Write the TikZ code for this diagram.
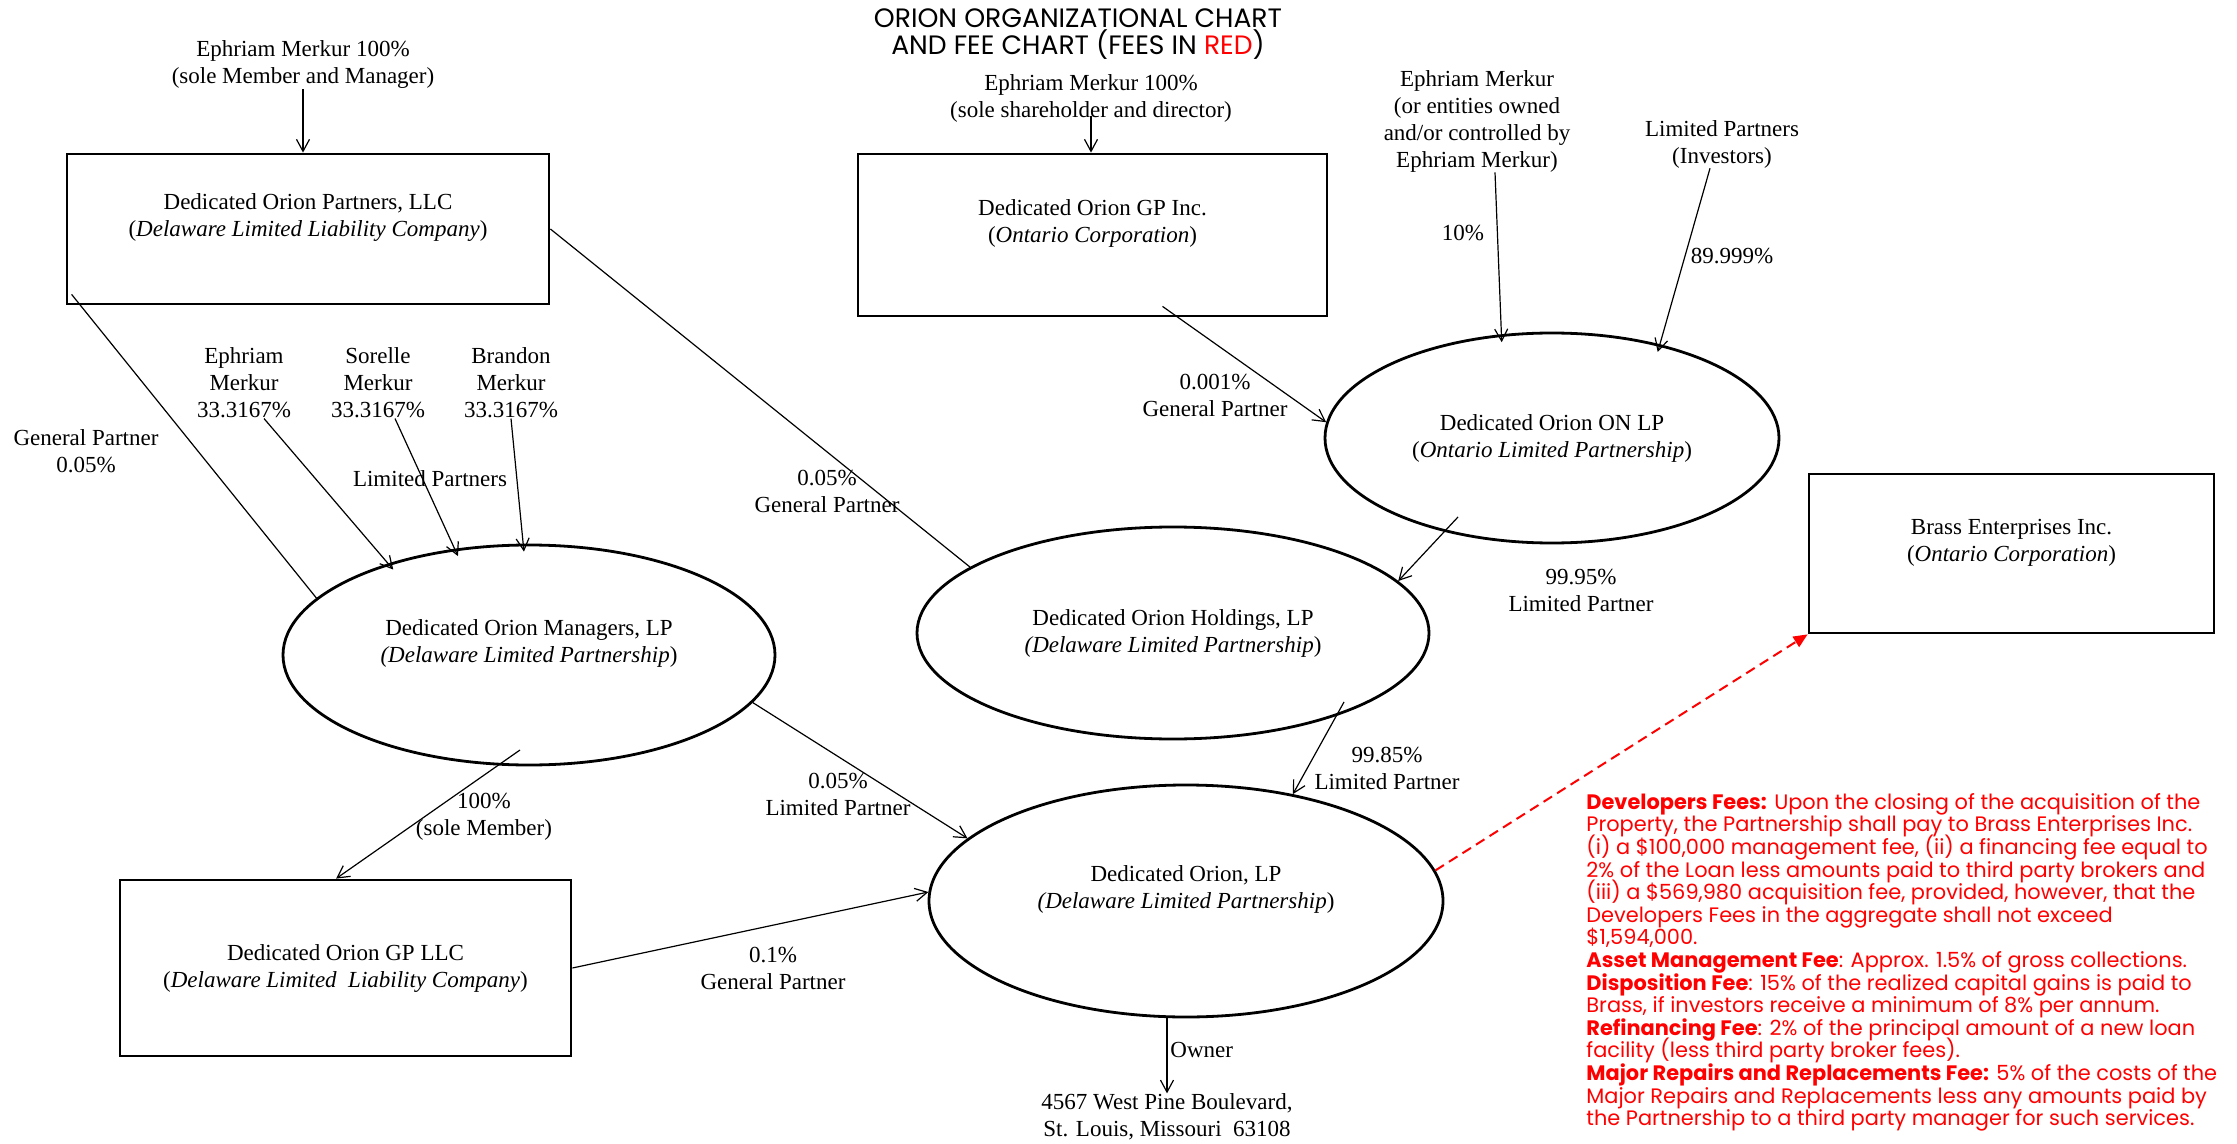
\documentclass[tikz,border=0pt]{standalone}
\usepackage{fontspec}
\setmainfont{Liberation Serif}
\newfontfamily\feefont{Poppins}
\usetikzlibrary{shapes.geometric, arrows.meta}

\begin{document}
\begin{tikzpicture}[
    x=0.5pt, y=-0.5pt,
    >={Straight Barb[length=6pt,width=6.5pt]},
    every node/.style={font=\fontsize{11.5}{13.5}\selectfont, inner sep=0pt},
    box/.style={draw, line width=1.4pt, align=center},
    oval/.style={draw, ellipse, line width=1.4pt, align=center},
    note/.style={align=center},
    arrow/.style={->, line width=0.6pt},
    link/.style={line width=0.6pt},
    fee/.style={font={\feefont\fontsize{10.45}{11.3}\selectfont\lineskiplimit=-100pt}, text=red, align=left},
    feeline/.style={-{Triangle[length=7pt,width=6pt]}, red, line width=1pt, dash pattern=on 5pt off 3pt},
]
\useasboundingbox (0,0) rectangle (2237,1144);

% --- Title ---
\node[font=\feefont\fontsize{13.3}{12.5}\selectfont, align=center] (title) at (1078,34)
    {ORION ORGANIZATIONAL CHART\\AND FEE CHART (FEES IN \textcolor{red}{RED})};

% --- Entities ---
\node[box, minimum width=241pt, minimum height=75pt] (dop) at (308,229)
    {Dedicated Orion Partners, LLC\\(\textit{Delaware Limited Liability Company})\\\mbox{}};
\node[box, minimum width=234.5pt, minimum height=81pt] (gpinc) at (1092.5,235)
    {Dedicated Orion GP Inc.\\(\textit{Ontario Corporation})\\\mbox{}};
\node[box, minimum width=202.5pt, minimum height=79.5pt] (brass) at (2011.5,553.5)
    {Brass Enterprises Inc.\\(\textit{Ontario Corporation})\\\mbox{}};
\node[box, minimum width=225.5pt, minimum height=88pt] (gpllc) at (345.5,968)
    {Dedicated Orion GP LLC\\(\textit{Delaware Limited\ \ Liability Company})};
\node[oval, minimum width=227pt, minimum height=105pt] (onlp) at (1552,438)
    {Dedicated Orion ON LP\\(\textit{Ontario Limited Partnership})};
\node[oval, minimum width=246pt, minimum height=110pt] (mgr) at (529,655)
    {Dedicated Orion Managers, LP\\\textit{(Delaware Limited Partnership})\\\mbox{}};
\node[oval, minimum width=256pt, minimum height=106pt] (hold) at (1173,633)
    {Dedicated Orion Holdings, LP\\\textit{(Delaware Limited Partnership})};
\node[oval, minimum width=257pt, minimum height=116pt] (olp) at (1186,901)
    {Dedicated Orion, LP\\\textit{(Delaware Limited Partnership})\\\mbox{}};

% --- Owners ---
\node[note] (t1) at (303,65) {Ephriam Merkur 100\%\\(sole Member and Manager)};
\node[note] (t2) at (1091,98) {Ephriam Merkur 100\%\\(sole shareholder and director)};
\node[note] (t3) at (1477,121) {Ephriam Merkur\\(or entities owned\\and/or controlled by\\Ephriam Merkur)};
\node[note] (t4) at (1722,144) {Limited Partners\\(Investors)};
\node[note] (m1) at (244,383) {Ephriam\\Merkur\\33.3167\%};
\node[note] (m2) at (378,383) {Sorelle\\Merkur\\33.3167\%};
\node[note] (m3) at (511,383) {Brandon\\Merkur\\33.3167\%};
\node[note] (addr) at (1167,1117) {4567 West Pine Boulevard,\\St. Louis, Missouri\ \ 63108};

% --- Share labels ---
\node[note] (l1) at (86,451) {General Partner\\0.05\%};
\node[note] (l2) at (430,479) {Limited Partners};
\node[note] (l3) at (827,491) {0.05\%\\General Partner};
\node[note] (l4) at (484,817) {100\%\\(sole Member)};
\node[note] (l5) at (838,794) {0.05\%\\Limited Partner};
\node[note] (l6) at (773,968) {0.1\%\\General Partner};
\node[note] (l7) at (1387,768) {99.85\%\\Limited Partner};
\node[note] (l8) at (1581,590) {99.95\%\\Limited Partner};
\node[note] (l9) at (1215,395) {0.001\%\\General Partner};
\node[note] (l10) at (1463,233) {10\%};
\node[note] (l11) at (1732,256) {89.999\%};
\node[anchor=west] (own) at (1170,1050) {Owner};

% --- Connectors ---
\draw[arrow] (t1.south) -- (t1.south |- dop.north);
\draw[arrow] ([yshift=-9pt]t2.center) -- (t2.center |- gpinc.north);
\draw[arrow, shorten >=-4pt] ([xshift=9pt]t3.south) -- (onlp.116);
\draw[arrow, shorten >=-4pt] ([xshift=-6pt]t4.south) -- (onlp.41);
\draw[arrow] ([xshift=35pt,yshift=5.5pt]gpinc.south) -- (onlp.176);
\draw[arrow] ([xshift=-47pt,yshift=-39.5pt]onlp.center) -- (hold.13);
\draw[arrow] ([xshift=85.5pt,yshift=-34.5pt]hold.center) -- (olp.45);
\draw[arrow] (addr.north |- olp.south) -- (addr.north);

\draw[link] ([xshift=3pt,yshift=5.5pt]dop.south west) -- (mgr.165);
\draw[link] (dop.east) -- (hold.162);

\draw[arrow, shorten >=-4pt] ([xshift=10pt]m1.south) -- (mgr.147);
\draw[arrow, shorten >=-4pt] ([xshift=8.5pt]m2.south) -- (mgr.125);
\draw[arrow, shorten >=-4pt] (m3.south) -- (mgr.93);

\draw[arrow] ([xshift=-4.5pt,yshift=-47.5pt]mgr.center) -- (gpllc.96);
\draw[arrow] (mgr.-12) -- (olp.164);
\draw[arrow] (gpllc.east) -- (olp.178);

% --- Fees ---
\draw[feeline] (olp.7) -- (brass.south west);
\node[fee, anchor=north west] (fees) at (1586,793) {%
\textbf{Developers Fees:} Upon the closing of the acquisition of the\\
Property, the Partnership shall pay to Brass Enterprises Inc.\\
(i) a \$100,000 management fee, (ii) a financing fee equal to\\
2\% of the Loan less amounts paid to third party brokers and\\
(iii) a \$569,980 acquisition fee, provided, however, that the\\
Developers Fees in the aggregate shall not exceed\\
\$1,594,000.\\
\textbf{Asset Management Fee}: Approx. 1.5\% of gross collections.\\
\textbf{Disposition Fee}: 15\% of the realized capital gains is paid to\\
Brass, if investors receive a minimum of 8\% per annum.\\
\textbf{Refinancing Fee}: 2\% of the principal amount of a new loan\\
facility (less third party broker fees).\\
\textbf{Major Repairs and Replacements Fee:} 5\% of the costs of the\\
Major Repairs and Replacements less any amounts paid by\\
the Partnership to a third party manager for such services.};

\end{tikzpicture}
\end{document}
